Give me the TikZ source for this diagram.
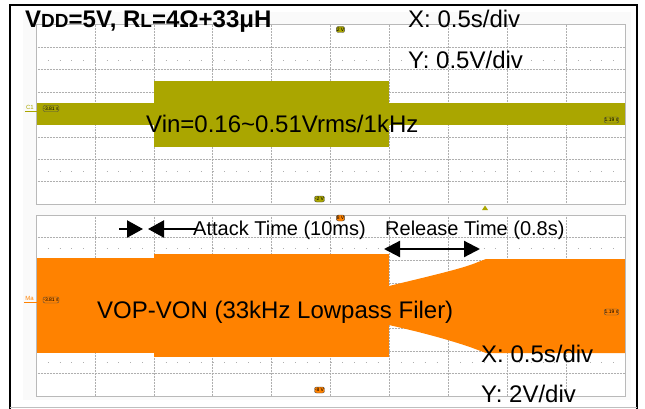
\documentclass[tikz,border=0pt]{standalone}
\usepackage{fontspec}
\setmainfont{Liberation Sans}
\usetikzlibrary{arrows.meta}
\definecolor{olivesig}{RGB}{170,166,0}
\definecolor{orangesig}{RGB}{255,130,0}
\definecolor{gridgray}{RGB}{175,175,175}
\begin{document}
\begin{tikzpicture}[x=1pt,y=-1pt,
  gridline/.style={gridgray,densely dotted,line width=0.5pt},
  panelborder/.style={draw=gray!55,line width=1pt},
  tickdot/.style={gridgray,line width=0.8pt,dash pattern=on 0.8pt off 10.98pt},
  bigtext/.style={inner sep=0pt,anchor=base west,font=\fontsize{24}{24}\selectfont},
  midtext/.style={inner sep=0pt,anchor=base west,font=\fontsize{20}{20}\selectfont},
  olivetag/.style={draw=black!70,fill=olivesig,rounded corners=2pt,inner sep=0.4pt,font=\fontsize{5}{5}\selectfont,minimum height=6pt},
  orangetag/.style={draw=black!70,fill=orangesig,rounded corners=2pt,inner sep=0.4pt,font=\fontsize{5}{5}\selectfont,minimum height=6pt},
  timearrow/.style={line width=2.2pt,-{Triangle[length=16pt,width=17pt]}},
  dblarrow/.style={line width=2.2pt,{Triangle[length=16pt,width=16pt]}-{Triangle[length=16pt,width=16pt]}}]
\useasboundingbox (0,0) rectangle (645,409);
\fill[white] (0,0) rectangle (645,409);
% panel background
\fill[gray!4] (23,12) rectangle (631,400);
% outer frame
\draw[line width=1.2pt] (10,410) -- (10,5) -- (637,5) -- (637,410);
\draw[gray!50,line width=0.8pt] (10,407) -- (637,407);

% ---------- upper panel ----------
\fill[white] (36,25) rectangle (625,204);
\foreach \i in {1,...,9} \draw[gridline] ({36+\i*58.9},25) -- ({36+\i*58.9},204);
\foreach \j in {1,...,7} \draw[gridline] (36,{25+\j*22.375}) -- (625,{25+\j*22.375});
\draw[tickdot] (36,60) -- (625,60);
\draw[tickdot] (36,171) -- (625,171);
% signal
\fill[olivesig] (36,103) rectangle (154,125);
\fill[olivesig] (154,81) rectangle (389,147);
\fill[olivesig] (389,103) rectangle (625,125);
\draw[panelborder] (36,25) rectangle (625,204);
% tags
\node[olivetag] (t2v) at (340.5,29.5) {2 V};
\node[olivetag] (tm2v) at (319.5,199) {-2 V};
\node[olivetag] (tl1) at (51,108.5) {-3.81 s};
\node[olivetag] (tr1) at (611.5,120) {1.19 s};
\node[inner sep=0pt,text=olivesig,font=\fontsize{6}{6}\selectfont] (c1) at (30,107) {C1};
\draw[olivesig,line width=0.8pt] (25,111) -- (37,111);
\fill[olivesig] (485,205.5) -- (488,210) -- (482,210) -- cycle;

% ---------- lower panel ----------
\fill[white] (36,215) rectangle (625,396);
\foreach \i in {1,...,9} \draw[gridline] ({36+\i*58.9},215) -- ({36+\i*58.9},396);
\foreach \j in {1,...,7} \draw[gridline] (36,{215+\j*22.625}) -- (625,{215+\j*22.625});
\draw[tickdot] (36,248) -- (625,248);
\draw[tickdot] (36,362) -- (625,362);
% signal
\fill[orangesig] (36,258) rectangle (154,353);
\fill[orangesig] (154,254) rectangle (389,357);
\fill[orangesig] (389,286) .. controls (430,276) and (465,268) .. (478,262) -- (486,259)
  -- (625,259) -- (625,353) -- (486,353) -- (470,347) .. controls (440,337) and (415,331) .. (389,325) -- cycle;
\draw[panelborder] (36,215) rectangle (625,396);
% tags
\node[orangetag] (t8v) at (340.5,218) {8 V};
\node[orangetag] (tm8v) at (319.5,390) {-8 V};
\node[orangetag] (tl2) at (51,300) {-3.81 s};
\node[orangetag] (tr2) at (611.5,312) {1.19 s};
\node[inner sep=0pt,text=orangesig,font=\fontsize{6}{6}\selectfont] (ma) at (29.5,298) {Ma};
\draw[orangesig,line width=0.8pt] (24,302) -- (37,302);

% ---------- texts ----------
\node[bigtext,font=\fontsize{24}{24}\selectfont\bfseries] (title) at (25,28)
  {V{\fontsize{19}{19}\selectfont DD}=5V, R{\fontsize{19}{19}\selectfont L}=4Ω+33μH};
\node[bigtext] (xtop) at (408,28) {X: 0.5s/div};
\node[bigtext] (ytop) at (408,69) {Y: 0.5V/div};
\node[bigtext] (vin) at (146,132) {Vin=0.16\char"007E 0.51Vrms/1kHz};
\node[midtext] (attack) at (193,235) {Attack Time (10ms)};
\node[midtext] (release) at (385,235) {Release Time (0.8s)};
\node[bigtext] (vop) at (97,318) {VOP-VON (33kHz Lowpass Filer)};
\node[bigtext] (xbot) at (481,362) {X: 0.5s/div};
\node[bigtext] (ybot) at (481,402) {Y: 2V/div};

% ---------- arrows ----------
\coordinate (ra) at (119,229);
\coordinate (rb) at (143,229);
\coordinate (la) at (196,229);
\coordinate (lb) at (148,229);
\coordinate (rela) at (384,249);
\coordinate (relb) at (480,249);
\draw[timearrow] (ra) -- (rb);
\draw[timearrow] (la) -- (lb);
\draw[dblarrow] (rela) -- (relb);
\end{tikzpicture}
\end{document}
